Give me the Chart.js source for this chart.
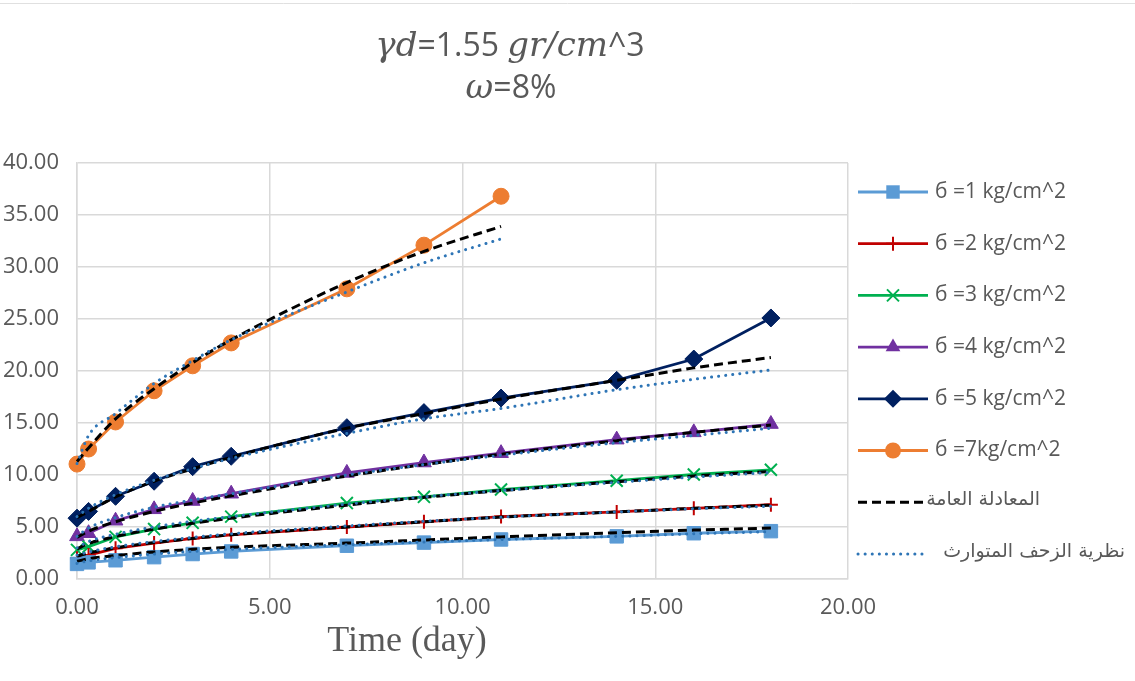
<!DOCTYPE html>
<html><head><meta charset="utf-8">
<script src="https://cdn.jsdelivr.net/npm/chart.js@4.4.0/dist/chart.umd.min.js"></script>
<style>html,body{margin:0;padding:0;background:#fff;}#wrap{width:1135px;height:681px;position:relative;}</style>
</head><body><div id="wrap"><canvas id="c" width="1135" height="681"></canvas></div>
<script>
// ---- data ----
const times = [0, 0.3, 1, 2, 3, 4, 7, 9, 11, 14, 16, 18];
const times7 = [0, 0.3, 1, 2, 3, 4, 7, 9, 11];
const seriesLabels = ['б =1 kg/cm^2', 'б =2 kg/cm^2', 'б =3 kg/cm^2', 'б =4 kg/cm^2', 'б =5 kg/cm^2', 'б =7kg/cm^2'];
const fitLabel = 'المعادلة العامة';
const theoryLabel = 'نظرية الزحف المتوارث';
const titleLine1 = ['γd', '=1.55 ', 'gr/cm', '^3'];
const titleLine2 = ['ω', '=8%'];
const xTitle = 'Time (day)';
const xTicks = [0, 5, 10, 15, 20];
const yTicks = [0, 5, 10, 15, 20, 25, 30, 35, 40];

const s1 = [1.45, 1.6, 1.8, 2.1, 2.4, 2.65, 3.2, 3.5, 3.8, 4.1, 4.4, 4.6];
const s2 = [2.0, 2.3, 2.95, 3.45, 3.9, 4.25, 5.0, 5.5, 6.0, 6.45, 6.8, 7.15];
const s3 = [2.8, 3.1, 4.05, 4.8, 5.4, 6.0, 7.3, 7.9, 8.6, 9.45, 10.05, 10.5];
const s4 = [4.1, 4.4, 5.6, 6.7, 7.5, 8.2, 10.2, 11.2, 12.1, 13.4, 14.1, 14.9];
const s5 = [5.85, 6.5, 7.95, 9.4, 10.8, 11.8, 14.55, 16.0, 17.4, 19.1, 21.15, 25.1];
const s7 = [11.05, 12.5, 15.1, 18.1, 20.5, 22.7, 27.9, 32.1, 36.8];

const fit1 = [1.7, 1.95, 2.25, 2.6, 2.85, 3.05, 3.45, 3.75, 4.05, 4.45, 4.7, 4.9];
const fit2 = [2.2, 2.5, 3.0, 3.5, 3.9, 4.25, 5.0, 5.5, 5.95, 6.45, 6.8, 7.1];
const fit3 = [2.9, 3.4, 4.1, 4.8, 5.35, 5.85, 7.1, 7.85, 8.5, 9.35, 9.9, 10.35];
const fit4 = [4.0, 4.6, 5.5, 6.5, 7.3, 8.0, 9.9, 11.0, 12.0, 13.3, 14.1, 14.8];
const fit5 = [5.9, 6.5, 7.9, 9.4, 10.6, 11.7, 14.5, 15.9, 17.3, 19.1, 20.3, 21.3];
const fit7 = [11.3, 12.6, 15.4, 18.3, 20.8, 23.0, 28.5, 31.5, 33.9];

const th1 = [1.5, 1.75, 2.05, 2.4, 2.65, 2.85, 3.3, 3.55, 3.8, 4.1, 4.35, 4.55];
const th2 = [2.3, 2.6, 3.1, 3.6, 4.0, 4.35, 5.1, 5.55, 5.95, 6.45, 6.75, 7.0];
const th3 = [3.0, 3.6, 4.3, 5.0, 5.55, 6.0, 7.2, 7.9, 8.5, 9.3, 9.8, 10.25];
const th4 = [4.1, 4.9, 5.9, 6.9, 7.6, 8.2, 10.0, 11.0, 11.9, 13.1, 13.8, 14.5];
const th5 = [6.0, 6.8, 8.1, 9.5, 10.6, 11.6, 14.0, 15.4, 16.4, 18.2, 19.2, 20.1];
const th7 = [11.1, 13.8, 15.9, 18.8, 21.0, 23.0, 27.6, 30.4, 32.7];

// ---- build ----
const pts = (xs, ys) => ys.map((v, i) => ({x: xs[i], y: v}));
const colors = ['#5b9bd5', '#c00000', '#00b050', '#7030a0', '#002060', '#ed7d31'];
const pStyles = ['rect', 'cross', 'crossRot', 'triangle', 'rectRot', 'circle'];
const pRadius = [9.5, 7, 8.5, 8.5, 9, 8];
const pBorder = [1, 2, 2, 1, 1, 1];
const dataSets = [s1, s2, s3, s4, s5, s7];
const fitSets = [fit1, fit2, fit3, fit4, fit5, fit7];
const thSets = [th1, th2, th3, th4, th5, th7];
const xsFor = i => i === 5 ? times7 : times;

const datasets = [];
dataSets.forEach((d, i) => datasets.push({
  label: seriesLabels[i], data: pts(xsFor(i), d), borderColor: colors[i], backgroundColor: colors[i],
  borderWidth: 2.8, pointStyle: pStyles[i], pointRadius: pRadius[i], pointHoverRadius: pRadius[i],
  pointBackgroundColor: colors[i], pointBorderColor: colors[i], pointBorderWidth: pBorder[i],
  tension: 0, order: 3, clip: false, legendIndex: i
}));
fitSets.forEach((d, i) => datasets.push({
  label: fitLabel, data: pts(xsFor(i), d), borderColor: '#000000', backgroundColor: '#000000',
  borderWidth: 3, borderDash: [9, 5], pointRadius: 0, cubicInterpolationMode: 'monotone',
  order: 2, clip: false, legendIndex: i === 0 ? 6 : -1
}));
thSets.forEach((d, i) => datasets.push({
  label: theoryLabel, data: pts(xsFor(i), d), borderColor: '#2e75b6', backgroundColor: '#2e75b6',
  borderWidth: 3, borderDash: [0.1, 7], borderCapStyle: 'round', pointRadius: 0, cubicInterpolationMode: 'monotone',
  order: 1, clip: false, legendIndex: i === 0 ? 7 : -1
}));

const GRAY = '#595959';
const SANS = '"Open Sans", "Noto Sans", sans-serif';
const MATH = 'italic 34px "DejaVu Serif", serif';

function marker(ctx, style, x, y, r, color, bw) {
  ctx.save();
  ctx.fillStyle = color; ctx.strokeStyle = color; ctx.lineWidth = bw; ctx.setLineDash([]);
  ctx.beginPath();
  if (style === 'rect') { const s = r * Math.SQRT1_2; ctx.rect(x - s, y - s, 2 * s, 2 * s); ctx.fill(); }
  else if (style === 'circle') { ctx.arc(x, y, r, 0, Math.PI * 2); ctx.fill(); }
  else if (style === 'triangle') {
    ctx.moveTo(x, y - r); ctx.lineTo(x + r * 0.866, y + r * 0.5); ctx.lineTo(x - r * 0.866, y + r * 0.5); ctx.closePath(); ctx.fill();
  }
  else if (style === 'rectRot') { ctx.moveTo(x, y - r); ctx.lineTo(x + r, y); ctx.lineTo(x, y + r); ctx.lineTo(x - r, y); ctx.closePath(); ctx.fill(); }
  else if (style === 'cross') { ctx.moveTo(x, y - r); ctx.lineTo(x, y + r); ctx.moveTo(x - r, y); ctx.lineTo(x + r, y); ctx.stroke(); }
  else if (style === 'crossRot') { const o = r * Math.SQRT1_2; ctx.moveTo(x - o, y - o); ctx.lineTo(x + o, y + o); ctx.moveTo(x + o, y - o); ctx.lineTo(x - o, y + o); ctx.stroke(); }
  ctx.restore();
}

function drawParts(ctx, parts, fonts, cx, y) {
  let w = 0;
  const ws = parts.map((t, i) => { ctx.font = fonts[i]; const m = ctx.measureText(t).width; w += m; return m; });
  let x = cx - w / 2;
  parts.forEach((t, i) => { ctx.font = fonts[i]; ctx.textAlign = 'left'; ctx.fillText(t, x, y); x += ws[i]; });
}

const decor = {
  id: 'decor',
  beforeDraw(chart) {
    const ctx = chart.ctx;
    ctx.save();
    ctx.strokeStyle = '#e0e0e0'; ctx.lineWidth = 1;
    ctx.beginPath(); ctx.moveTo(0, 3.5); ctx.lineTo(1135, 3.5); ctx.stroke();
    ctx.restore();
  },
  afterDraw(chart) {
    const ctx = chart.ctx;
    ctx.save();
    ctx.direction = 'ltr';
    ctx.fillStyle = GRAY; ctx.textBaseline = 'middle';
    drawParts(ctx, titleLine1, [MATH, '32px ' + SANS, MATH, '32px ' + SANS], 510, 47);
    drawParts(ctx, titleLine2, [MATH, '32px ' + SANS], 511, 89);
    // x axis title
    ctx.font = '36px "Liberation Serif", serif'; ctx.textAlign = 'center';
    ctx.fillText(xTitle, 407, 642);
    // legend
    const items = chart.data.datasets.filter(d => d.legendIndex >= 0).sort((a, b) => a.legendIndex - b.legendIndex);
    items.forEach((ds, i) => {
      const y = 192 + i * 51.7;
      ctx.save();
      ctx.strokeStyle = ds.borderColor; ctx.lineWidth = ds.borderWidth;
      ctx.setLineDash(ds.borderDash || []); ctx.lineCap = ds.borderCapStyle || 'butt';
      ctx.beginPath(); ctx.moveTo(858, y); ctx.lineTo(928, y); ctx.stroke();
      ctx.restore();
      if (ds.pointRadius > 0) marker(ctx, ds.pointStyle, 893, y, ds.pointRadius, ds.pointBackgroundColor, ds.pointBorderWidth);
      ctx.fillStyle = GRAY; ctx.textBaseline = 'middle';
      if (i < 6) { ctx.font = '21px ' + SANS; ctx.textAlign = 'left'; ctx.fillText(ds.label, 935, y); }
      else { ctx.font = '19px "DejaVu Sans", sans-serif'; ctx.textAlign = 'right'; ctx.fillText(ds.label, i === 6 ? 1040 : 1125, y - 2); }
    });
    ctx.restore();
  }
};

new Chart(document.getElementById('c'), {
  type: 'line',
  data: { datasets },
  plugins: [decor],
  options: {
    responsive: false, animation: false, devicePixelRatio: 1,
    layout: { padding: { top: 163, right: 287, left: 0, bottom: 0 } },
    plugins: { legend: { display: false }, title: { display: false }, tooltip: { enabled: false } },
    scales: {
      x: {
        type: 'linear', min: 0, max: 20,
        afterBuildTicks: s => { s.ticks = xTicks.map(v => ({value: v})); },
        afterFit: s => { s.height = 102; },
        grid: { color: '#d9d9d9', lineWidth: 1.5, drawTicks: false },
        border: { color: '#d9d9d9', width: 1.5 },
        ticks: { padding: 16, color: GRAY, font: { size: 22, family: SANS }, callback: v => Number(v).toFixed(2), maxRotation: 0 }
      },
      y: {
        type: 'linear', min: 0, max: 40,
        afterBuildTicks: s => { s.ticks = yTicks.map(v => ({value: v})); },
        afterFit: s => { s.width = 77; },
        grid: { color: '#d9d9d9', lineWidth: 1.5, drawTicks: false },
        border: { color: '#d9d9d9', width: 1.5 },
        ticks: { padding: 18, color: GRAY, font: { size: 22, family: SANS }, callback: v => Number(v).toFixed(2) }
      }
    }
  }
});
</script></body></html>
